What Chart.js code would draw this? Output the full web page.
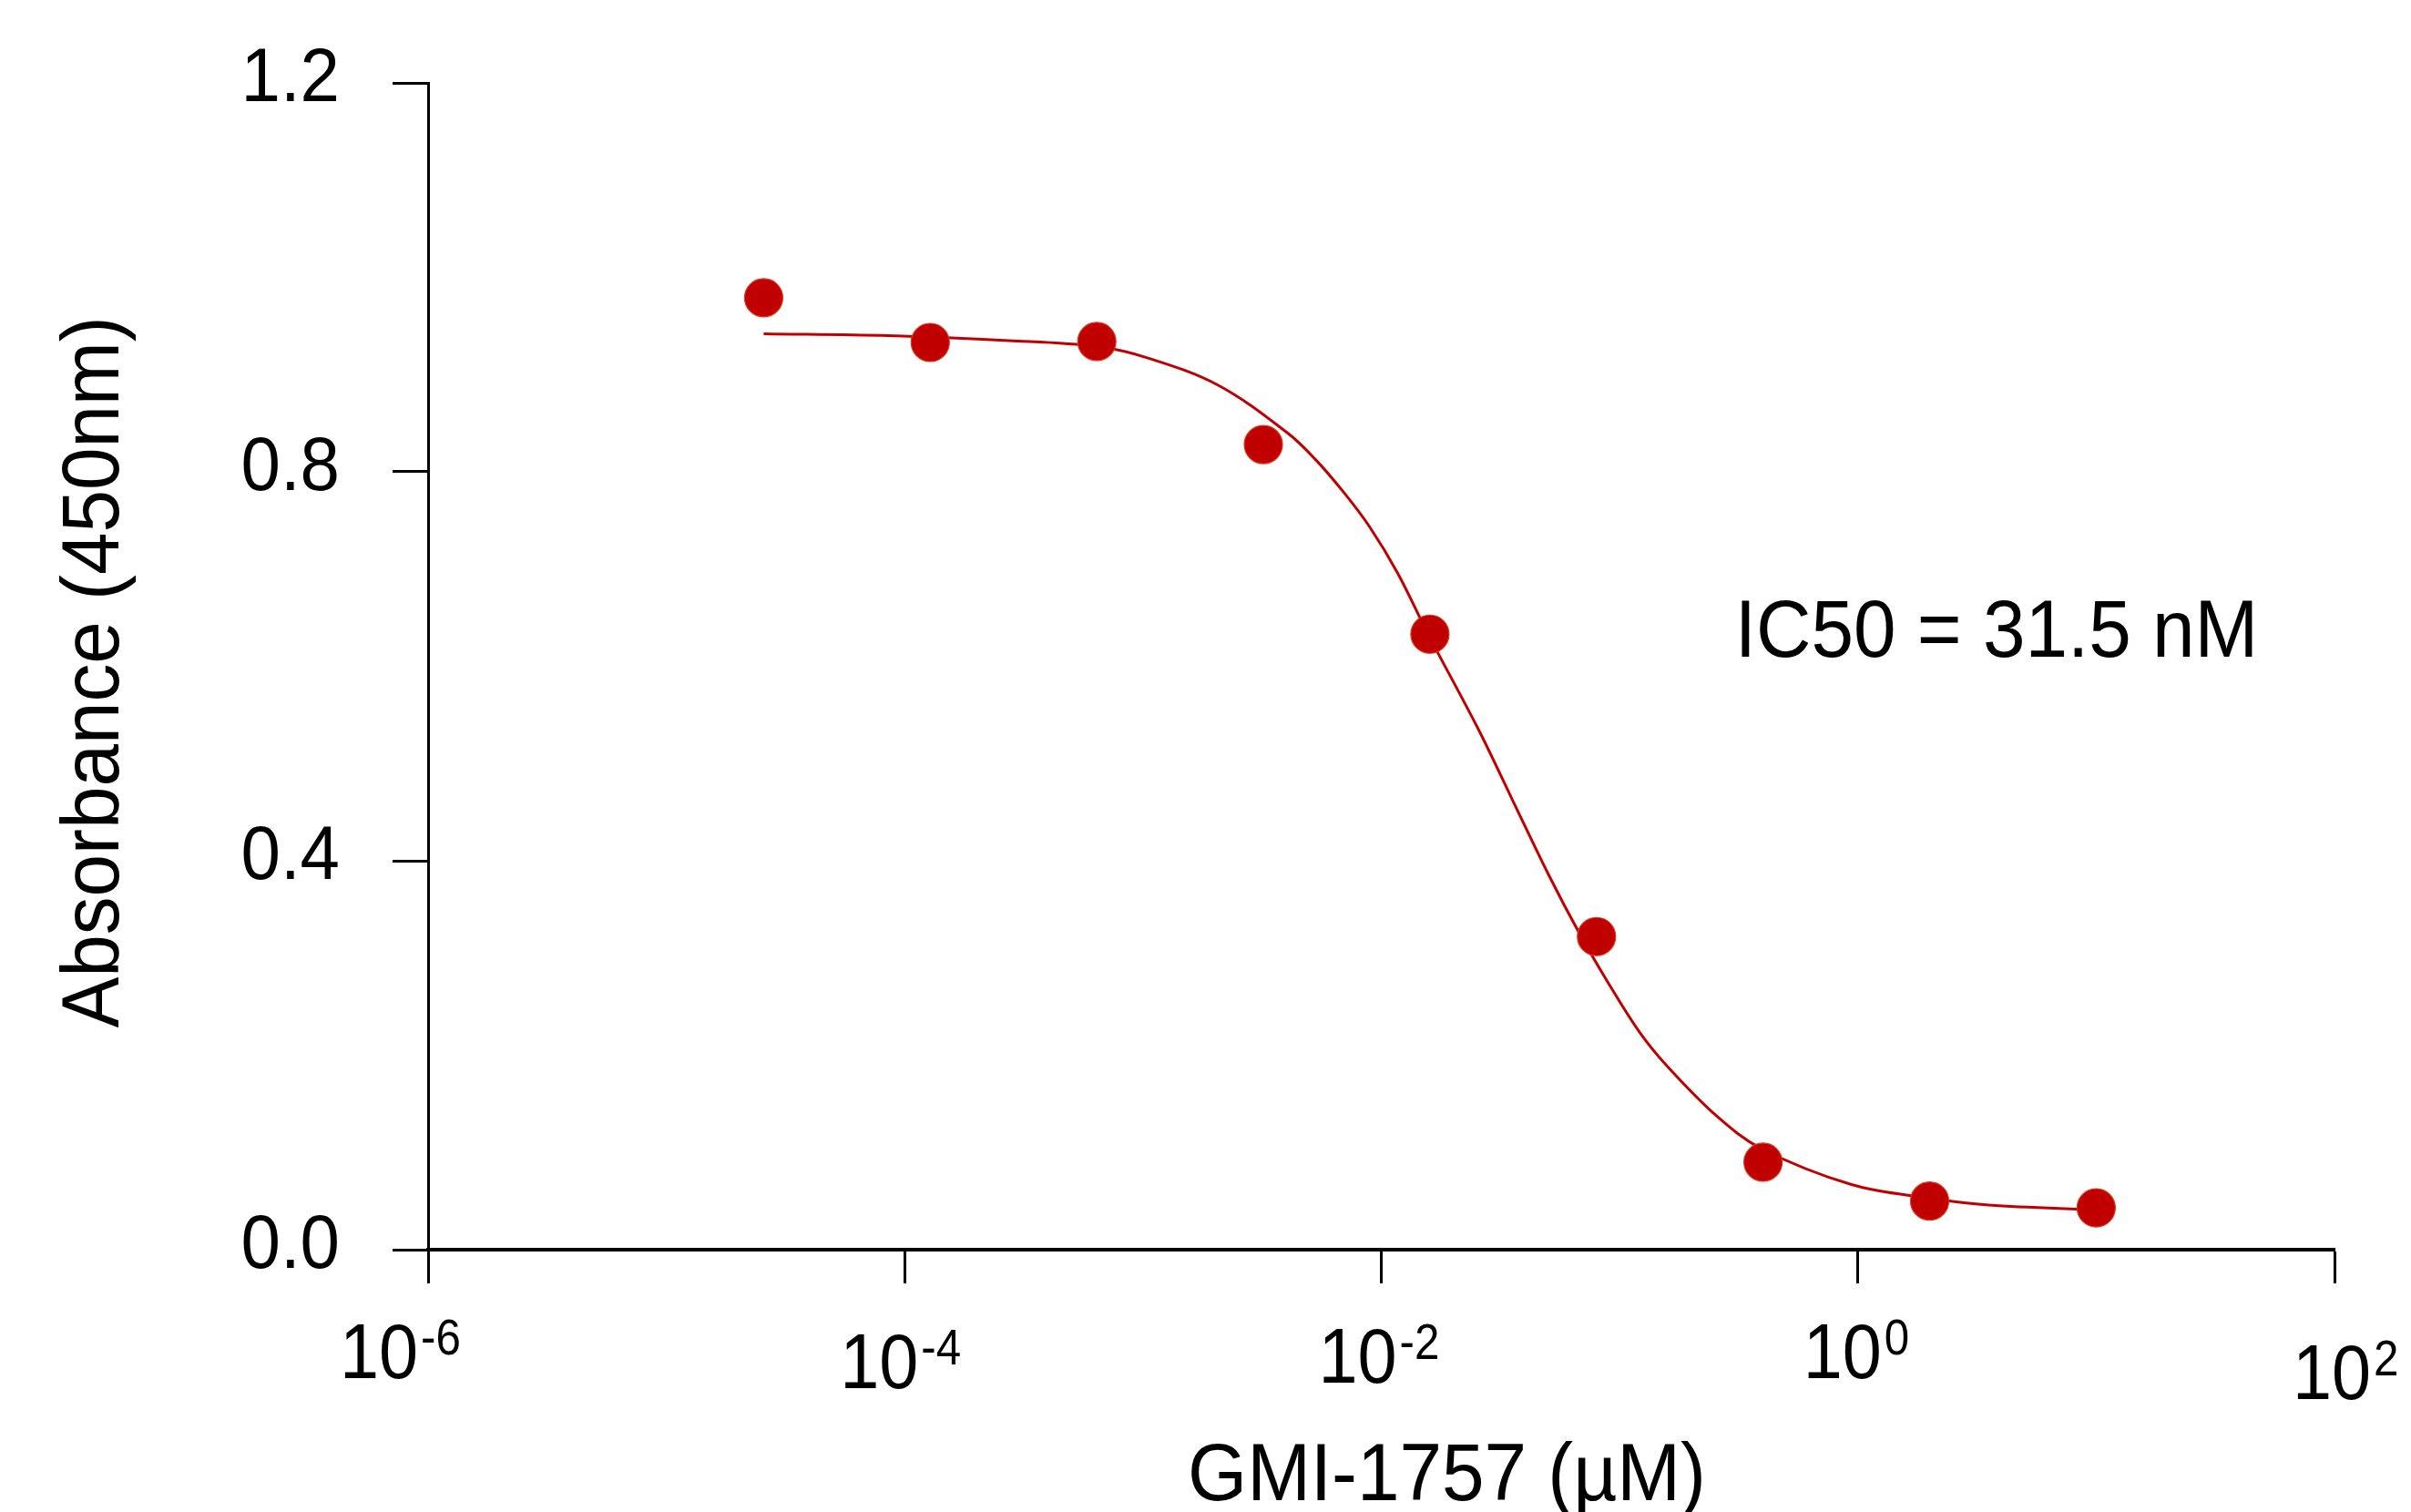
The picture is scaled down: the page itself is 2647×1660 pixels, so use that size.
<!DOCTYPE html>
<html>
<head>
<meta charset="utf-8">
<title>GMI-1757 IC50</title>
<script src="https://cdn.jsdelivr.net/npm/chart.js@4.4.0/dist/chart.umd.min.js"></script>
<style>
    html, body { margin: 0; padding: 0; background: #ffffff; }
    #wrap { width: 2647px; height: 1660px; }
</style>
</head>
<body>
<div id="wrap"><canvas id="ic50Chart" width="2647" height="1660"></canvas></div>
<script>
// Measured points (concentration in uM, absorbance)
const doseX = [2.56e-5, 1.28e-4, 6.4e-4, 3.2e-3, 0.016, 0.08, 0.4, 2, 10];
const doseY = [0.979, 0.933, 0.934, 0.828, 0.633, 0.322, 0.090, 0.050, 0.043];

// Fitted curve
const curveX = [2.56e-5, 8.55e-5, 2.74e-4, 6.4e-4, 1.05e-3, 2.07e-3, 4.04e-3, 5.28e-3,
    6.95e-3, 8.9e-3, 1.17e-2, 1.58e-2, 2.57e-2, 3.56e-2, 5.05e-2, 6.76e-2, 0.0893,
    0.121, 0.158, 0.254, 0.393, 0.94, 2.0, 3.54, 10];
const curveY = [0.942, 0.940, 0.935, 0.929, 0.917, 0.889, 0.840, 0.813,
    0.779, 0.744, 0.696, 0.632, 0.534, 0.462, 0.385, 0.326, 0.275,
    0.224, 0.189, 0.138, 0.104, 0.067, 0.053, 0.046, 0.041];

// Axis ticks and labels
const xTickValues = [1e-6, 1e-4, 1e-2, 1, 100];
const xTickExponents = ['-6', '-4', '-2', '0', '2'];
const yTickValues = [0, 0.4, 0.8, 1.2];
const yTickLabels = ['0.0', '0.4', '0.8', '1.2'];

const xTitle = 'GMI-1757 (\u00b5M)';
const yTitle = 'Absorbance (450nm)';
const ic50Text = 'IC50 = 31.5 nM';
const ic50At = { x: 0.305, y: 0.61 };

// Styling
const RED = '#c00000';
const FONT = "'Liberation Sans', Arial, sans-serif";
// small nudges of the exponent labels, as in the original figure
const xLabelDx = [-11, 15, 17, 26, 40];
const xLabelDy = [141, 152, 146, 141, 164];

function drawText(ctx, text, x, y, size, align, squeeze, angle) {
    ctx.save();
    ctx.translate(x, y);
    if (angle) ctx.rotate(angle);
    ctx.scale(squeeze, 1);
    ctx.font = size + 'px ' + FONT;
    ctx.textAlign = align;
    ctx.textBaseline = 'alphabetic';
    ctx.fillStyle = '#000000';
    ctx.fillText(text, 0, 0);
    ctx.restore();
}

// Plugin for labels (superscripts, rotated title, note)
const labelPlugin = {
    id: 'labels',
    afterDraw(chart) {
        const ctx = chart.ctx;
        const xs = chart.scales.x;
        const ys = chart.scales.y;
        const area = chart.chartArea;

        // y tick labels
        yTickValues.forEach((v, i) => {
            const py = ys.getPixelForValue(v);
            drawText(ctx, yTickLabels[i], 373, py + 20, 83, 'right', 0.94);
        });

        // x tick labels: 10 with exponent
        xTickValues.forEach((v, i) => {
            const px = xs.getPixelForValue(v) + xLabelDx[i];
            const base = area.bottom + xLabelDy[i];
            drawText(ctx, '10', px, base, 86, 'right', 0.9);
            drawText(ctx, xTickExponents[i], px + 3, base - 26, 56, 'left', 0.88);
        });

        // axis titles
        drawText(ctx, xTitle, (area.left + area.right) / 2 + 72, 1647, 89, 'center', 0.94);
        drawText(ctx, yTitle, 130, 738, 89, 'center', 0.94, -Math.PI / 2);

        // IC50 note
        drawText(ctx, ic50Text, xs.getPixelForValue(ic50At.x), ys.getPixelForValue(ic50At.y), 89, 'left', 0.94);
    }
};

const ctx = document.getElementById('ic50Chart').getContext('2d');
const chart = new Chart(ctx, {
    type: 'scatter',
    data: {
        datasets: [
            {
                label: 'data',
                data: doseX.map((x, i) => ({ x: x, y: doseY[i] })),
                pointRadius: 21,
                pointHoverRadius: 21,
                backgroundColor: RED,
                borderColor: '#d9381e',
                borderWidth: 1.2,
                order: 0
            },
            {
                label: 'fit',
                type: 'line',
                data: curveX.map((x, i) => ({ x: x, y: curveY[i] })),
                showLine: true,
                borderColor: RED,
                borderWidth: 3,
                pointRadius: 0,
                fill: false,
                tension: 0.35,
                order: 1
            }
        ]
    },
    options: {
        responsive: false,
        animation: false,
        devicePixelRatio: 1,
        layout: {
            padding: { top: 91, right: 84, left: 0, bottom: 0 }
        },
        plugins: {
            legend: { display: false },
            tooltip: { enabled: false },
            title: { display: false }
        },
        scales: {
            x: {
                type: 'logarithmic',
                position: 'bottom',
                min: 1e-6,
                max: 100,
                afterBuildTicks: (scale) => {
                    scale.ticks = xTickValues.map(v => ({ value: v }));
                },
                afterFit: (scale) => { scale.height = 288; },
                ticks: { display: false },
                grid: {
                    drawOnChartArea: false,
                    drawTicks: true,
                    tickLength: 37,
                    tickWidth: 3,
                    tickColor: '#000000'
                },
                border: { display: true, color: '#000000', width: 4 }
            },
            y: {
                type: 'linear',
                min: 0,
                max: 1.2,
                afterBuildTicks: (scale) => {
                    scale.ticks = yTickValues.map(v => ({ value: v }));
                },
                afterFit: (scale) => { scale.width = 470; },
                ticks: { display: false },
                grid: {
                    drawOnChartArea: false,
                    drawTicks: true,
                    tickLength: 39,
                    tickWidth: 3,
                    tickColor: '#000000'
                },
                border: { display: true, color: '#000000', width: 3 }
            }
        }
    },
    plugins: [labelPlugin]
});
</script>
</body>
</html>
